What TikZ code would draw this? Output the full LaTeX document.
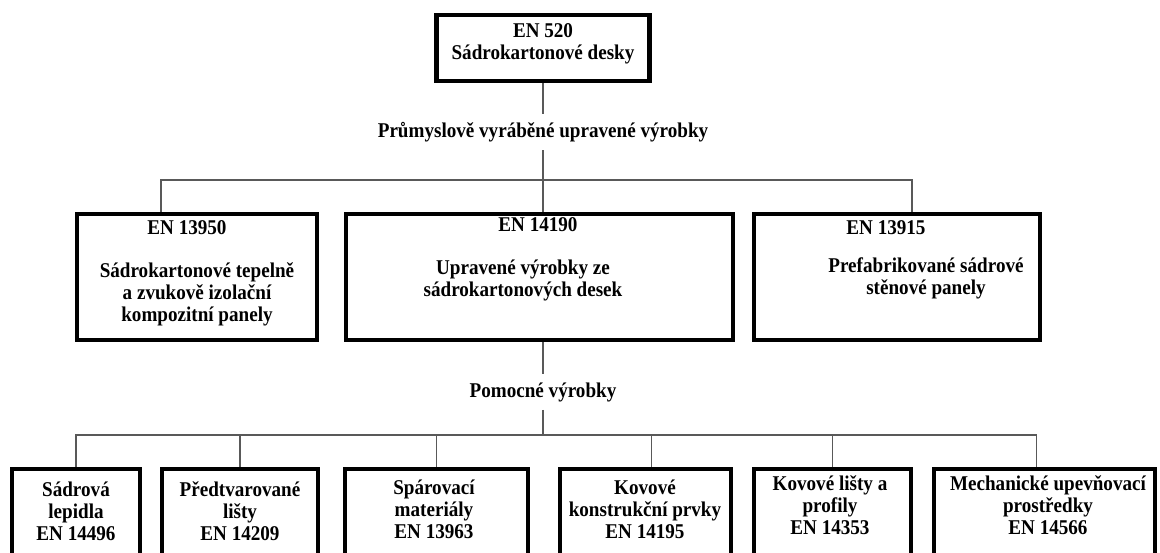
\documentclass[tikz,border=0pt]{standalone}
\usepackage{fontspec}
\setmainfont{Liberation Serif}[FakeStretch=0.91]
\begin{document}
\begin{tikzpicture}[
                x = 1pt,
                y = -1pt,
                semithick
                ]

                \tikzstyle{box}=[
                        draw = black,
                        rectangle,
                        line width = 4.5pt,
                        inner sep = 0pt
                ]
                \tikzstyle{txt}=[
                        align = center,
                        inner sep = 3pt,
                        font = \fontsize{21}{22}\selectfont\bfseries
                ]
                \tikzstyle{caption}=[
                        txt,
                        inner sep = 8pt
                ]
                \tikzstyle{link}=[
                        draw = black!65,
                        line width = 1.2pt
                ]

                \useasboundingbox (0,0) rectangle (1160,553);
                \clip (0,0) rectangle (1160,553);

                \node[box, minimum width = 213pt, minimum height = 66pt] (top) at (543,48) {};
                \node[txt] (topt) at (543,43.5) {EN 520\\Sádrokartonové desky};

                \node[caption] (lbl1) at (543,132) {Průmyslově vyráběné upravené výrobky};
                \coordinate (bus1) at (543,180);

                \node[box, minimum width = 240pt, minimum height = 126pt] (m1) at (197,277) {};
                \node[box, minimum width = 387pt, minimum height = 126pt] (m2) at (539.5,277) {};
                \node[box, minimum width = 286pt, minimum height = 126pt] (m3) at (897,277) {};

                \node[txt] (m1t) at (187,228) {EN 13950};
                \node[txt] (m1d) at (197,294.5) {Sádrokartonové tepelně\\a zvukově izolační\\kompozitní panely};
                \node[txt] (m2t) at (538,225) {EN 14190};
                \node[txt] (m2d) at (523,280) {Upravené výrobky ze\\sádrokartonových desek};
                \node[txt] (m3t) at (886,228) {EN 13915};
                \node[txt] (m3d) at (926,278.5) {Prefabrikované sádrové\\stěnové panely};

                \node[caption] (lbl2) at (543,392) {Pomocné výrobky};
                \coordinate (bus2) at (543,435);

                \node[box, minimum width = 128pt, minimum height = 151pt] (b1) at (76,544.5) {};
                \node[box, minimum width = 156pt, minimum height = 151pt] (b2) at (240,544.5) {};
                \node[box, minimum width = 183pt, minimum height = 151pt] (b3) at (436.5,544.5) {};
                \node[box, minimum width = 171pt, minimum height = 151pt] (b4) at (645.5,544.5) {};
                \node[box, minimum width = 157pt, minimum height = 151pt] (b5) at (832.5,544.5) {};
                \node[box, minimum width = 221pt, minimum height = 151pt] (b6) at (1044.5,544.5) {};

                \node[txt] (b1t) at (76,511.5) {Sádrová\\lepidla\\EN 14496};
                \node[txt] (b2t) at (240,511.5) {Předtvarované\\lišty\\EN 14209};
                \node[txt] (b3t) at (434,509) {Spárovací\\materiály\\EN 13963};
                \node[txt] (b4t) at (645,509) {Kovové\\konstrukční prvky\\EN 14195};
                \node[txt] (b5t) at (830,505) {Kovové lišty a\\profily\\EN 14353};
                \node[txt] (b6t) at (1048,505) {Mechanické upevňovací\\prostředky\\EN 14566};

                \draw[link] (top.south) -- (lbl1.north);
                \draw[link] (lbl1.south) -- (bus1);
                \draw[link] (bus1) -| ([xshift=-36pt]m1.north);
                \draw[link] (bus1) -| ([xshift=15pt]m3.north);
                \draw[link] (bus1) -- (bus1 |- m2.north);
                \draw[link] (bus1 |- m2.south) -- (lbl2.north);
                \draw[link] (lbl2.south) -- (bus2);
                \draw[link] (bus2) -| (b1.north);
                \draw[link] (bus2) -| (b2.north);
                \draw[link] (bus2) -| (b3.north);
                \draw[link] (bus2) -| ([xshift=6pt]b4.north);
                \draw[link] (bus2) -| (b5.north);
                \draw[link] (bus2) -| ([xshift=-8pt]b6.north);
\end{tikzpicture}
\end{document}
